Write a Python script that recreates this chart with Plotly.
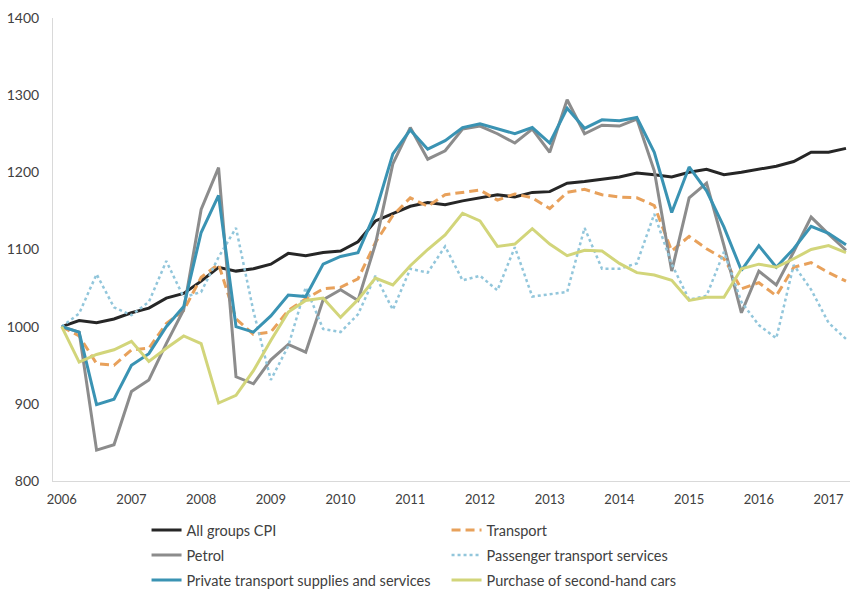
import plotly.graph_objects as go

# Quarterly index values, 2006 Q1 = 1000
years = list(range(2006, 2018))
quarters = [y + q / 4 for y in range(2006, 2018) for q in range(4)][:46]

all_groups_cpi = [1000, 1008, 1005, 1010, 1018, 1024, 1037, 1043, 1059, 1077,
                  1072, 1075, 1081, 1095, 1092, 1096, 1098, 1110, 1137, 1146,
                  1156, 1161, 1158, 1163, 1167, 1171, 1168, 1174, 1175, 1186,
                  1188, 1191, 1194, 1199, 1197, 1194, 1200, 1204, 1197, 1200,
                  1204, 1208, 1214, 1226, 1226, 1231]

transport = [1000, 988, 952, 950, 970, 972, 1004, 1021, 1064, 1081,
             1010, 990, 993, 1021, 1036, 1049, 1051, 1062, 1109, 1144,
             1167, 1156, 1171, 1174, 1177, 1164, 1172, 1167, 1153, 1174,
             1178, 1171, 1168, 1167, 1157, 1098, 1117, 1101, 1088, 1049,
             1057, 1040, 1077, 1083, 1070, 1059]

petrol = [1000, 993, 840, 847, 916, 931, 978, 1022, 1152, 1206,
          935, 926, 957, 977, 967, 1035, 1048, 1034, 1107, 1211,
          1258, 1217, 1228, 1256, 1260, 1250, 1238, 1256, 1226, 1294,
          1250, 1261, 1260, 1269, 1202, 1072, 1167, 1186, 1105, 1018,
          1072, 1054, 1097, 1142, 1120, 1099]

passenger_transport = [1000, 1017, 1068, 1025, 1015, 1032, 1085, 1038, 1045, 1090,
                       1128, 1020, 931, 975, 1051, 997, 993, 1016, 1066, 1022,
                       1075, 1070, 1104, 1060, 1066, 1047, 1103, 1039, 1042, 1045,
                       1128, 1075, 1075, 1082, 1146, 1081, 1035, 1040, 1097, 1032,
                       1002, 985, 1080, 1048, 1005, 984]

private_transport = [1000, 993, 899, 906, 950, 965, 1000, 1026, 1122, 1170,
                     1000, 993, 1014, 1041, 1039, 1081, 1091, 1096, 1148, 1224,
                     1255, 1230, 1241, 1258, 1263, 1256, 1250, 1258, 1238, 1283,
                     1257, 1268, 1267, 1271, 1226, 1148, 1207, 1176, 1129, 1073,
                     1105, 1077, 1101, 1130, 1121, 1106]

second_hand_cars = [1000, 954, 964, 970, 981, 955, 972, 988, 978, 901,
                    911, 943, 982, 1019, 1034, 1037, 1012, 1035, 1063, 1054,
                    1079, 1100, 1119, 1147, 1137, 1104, 1107, 1127, 1107, 1092,
                    1099, 1098, 1082, 1070, 1067, 1060, 1034, 1038, 1038, 1075,
                    1081, 1077, 1088, 1100, 1105, 1096]

series = [
    ("All groups CPI", all_groups_cpi, "#262626", "solid", 3, "legend"),
    ("Transport", transport, "#E8A15B", "9px,5px", 3, "legend"),
    ("Petrol", petrol, "#8C8C8C", "solid", 3, "legend2"),
    ("Passenger transport services", passenger_transport, "#92C6DB", "dot", 2.5, "legend2"),
    ("Private transport supplies and services", private_transport, "#3A93B3", "solid", 3, "legend3"),
    ("Purchase of second-hand cars", second_hand_cars, "#D2D57A", "solid", 3, "legend3"),
]

fig = go.Figure()
for name, vals, color, dash, width, leg in series:
    fig.add_trace(go.Scatter(
        x=quarters, y=vals, name=name, mode="lines",
        line=dict(color=color, dash=dash, width=width),
        legend=leg,
    ))

font_family = "Lato, 'Open Sans', sans-serif"
text_color = "#404040"

legend_common = dict(
    orientation="h",
    xref="container", yref="container",
    x=0.1724, xanchor="left", yanchor="middle",
    entrywidth=255, entrywidthmode="pixels",
    font=dict(family=font_family, size=14.5, color=text_color),
    bgcolor="rgba(0,0,0,0)",
    traceorder="normal",
)

fig.update_layout(
    width=850, height=593,
    margin=dict(l=53, r=0, t=18, b=112),
    paper_bgcolor="white", plot_bgcolor="white",
    font=dict(family=font_family, size=13, color=text_color),
    xaxis=dict(
        range=[2006 - 0.125, 2017.3075],
        tickvals=years, ticktext=[str(y) for y in years],
        showgrid=False, zeroline=False,
        showline=True, linecolor="#D9D9D9", linewidth=1,
        ticks="", ticklabelstandoff=6,
        tickfont=dict(family=font_family, size=13, color=text_color),
    ),
    yaxis=dict(
        range=[800, 1400], tickvals=[800, 900, 1000, 1100, 1200, 1300, 1400],
        showgrid=False, zeroline=False,
        showline=True, linecolor="#D9D9D9", linewidth=1,
        ticks="", ticklabelstandoff=10,
        tickfont=dict(family=font_family, size=14, color=text_color),
    ),
    legend=dict(legend_common, y=1 - 530 / 593),
    legend2=dict(legend_common, y=1 - 555 / 593),
    legend3=dict(legend_common, y=1 - 580 / 593),
    showlegend=True,
)

fig.write_html("out.html")
